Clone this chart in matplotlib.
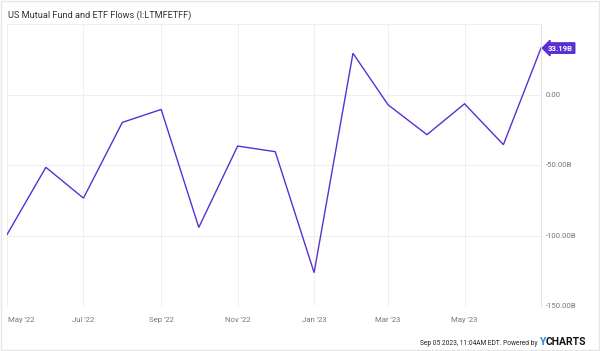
import pandas as pd
import matplotlib.pyplot as plt
import matplotlib.dates as mdates
from matplotlib.patches import Rectangle

# Donnees (milliards USD)
dates = ['2022-05-01', '2022-06-01', '2022-07-01', '2022-08-01', '2022-09-01',
         '2022-10-01', '2022-11-01', '2022-12-01', '2023-01-01', '2023-02-01',
         '2023-03-01', '2023-04-01', '2023-05-01', '2023-06-01', '2023-07-01']
flows = [-99.3, -51.5, -73.4, -19.6, -10.4, -94.2, -36.4, -40.4, -126.3, 29.5,
         -7.1, -28.3, -6.4, -35.4, 33.19]
yticks = [0, -50, -100, -150]
ytick_labels = ['0.00', '-50.00B', '-100.00B', '-150.00B']
xtick_dates = ['2022-05-01', '2022-07-01', '2022-09-01', '2022-11-01',
               '2023-01-01', '2023-03-01', '2023-05-01']
xtick_labels = ["May '22", "Jul '22", "Sep '22", "Nov '22", "Jan '23", "Mar '23", "May '23"]

x = pd.to_datetime(dates)
purple = '#5a2fd3'
plt.rcParams['font.family'] = ['Roboto', 'DejaVu Sans']

fig = plt.figure(figsize=(6, 3.51), dpi=100)
ax = fig.add_axes([7 / 600, 1 - 306 / 351, (541 - 7) / 600, (306 - 24.4) / 351])

ax.plot(x, flows, color=purple, linewidth=1.0, solid_joinstyle='miter')

ax.set_xlim(x[0], x[-1])
ax.set_ylim(-150, 50)

# grilles
ax.set_yticks([50, 0, -50, -100, -150])
ax.set_xticks(pd.to_datetime(xtick_dates))
ax.grid(True, color='#efefef', linewidth=0.8)
ax.tick_params(length=0)
ax.set_xticklabels([])
ax.set_yticklabels([])
for s in ['top', 'bottom', 'left']:
    ax.spines[s].set_visible(False)
ax.spines['right'].set_color('#e3e3e3')
ax.spines['right'].set_linewidth(0.8)

# etiquettes
for v, lab in zip(yticks, ytick_labels):
    ax.text(1.009, v, lab, transform=ax.get_yaxis_transform(), ha='left', va='center',
            fontsize=5.6, color='#777777')
for d, lab in zip(pd.to_datetime(xtick_dates), xtick_labels):
    ha = 'center'
    xx = mdates.date2num(d)
    if d == pd.Timestamp('2022-05-01'):
        ha = 'left'
        xx = xx + 1
    ax.text(xx, -0.04, lab, transform=ax.get_xaxis_transform(), ha=ha, va='top',
            fontsize=5.6, color='#777777')

# valeur finale
ax.annotate('33.19B', xy=(x[-1], flows[-1]), xytext=(5, 0), textcoords='offset points',
            ha='left', va='center', fontsize=5.6, fontweight='bold', color='white',
            annotation_clip=False,
            bbox=dict(boxstyle='larrow,pad=0.22', fc=purple, ec=purple))

fig.text(8 / 600, 1 - 15 / 351, 'US Mutual Fund and ETF Flows (I:LTMFETFF)', fontsize=6.6,
         color='#333333', ha='left', va='center')

fig.text(538 / 600, 1 - 345 / 351, 'Sep 05 2023, 11:04AM EDT. Powered by', fontsize=4.8,
         color='#222222', ha='right', va='baseline')
fig.text(539 / 600, 1 - 345 / 351, 'Y', fontsize=7.5, fontweight='bold', color='#1e88e5',
         ha='left', va='baseline')
fig.text(546 / 600, 1 - 345 / 351, 'CHARTS', fontsize=7.5, fontweight='bold', color='#111111',
         ha='left', va='baseline')

fig.patches.append(Rectangle((0.001, 0.002), 0.997, 0.995, transform=fig.transFigure,
                             fill=False, ec='#e6e6e6', lw=1))

fig.savefig('out.png', dpi=100)
